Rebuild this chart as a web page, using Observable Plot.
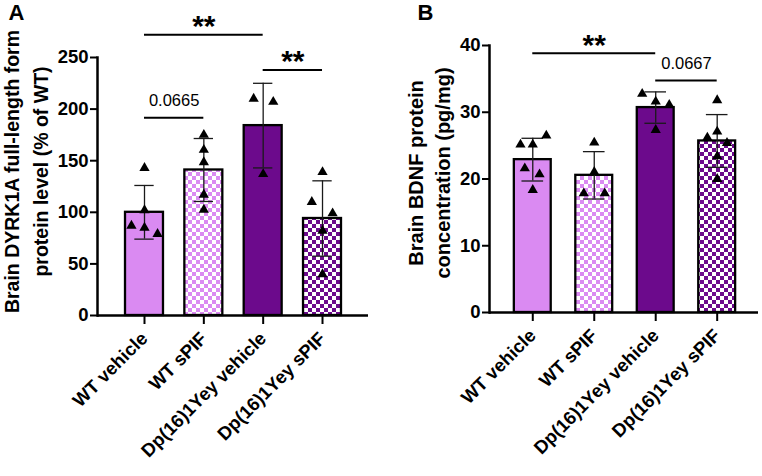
<!DOCTYPE html>
<html><head><meta charset="utf-8">
<script src="https://cdn.jsdelivr.net/npm/d3@7"></script>
<script src="https://cdn.jsdelivr.net/npm/@observablehq/plot@0.6"></script>
<style>
body{margin:0;background:#fff;}
#wrap{position:relative;width:762px;height:476px;overflow:hidden;background:#fff;}
#wrap svg{position:absolute;top:0;}
</style></head><body><div id="wrap"></div>
<script>
// ---------- data ----------
const groups = ["WT vehicle", "WT sPIF", "Dp(16)1Yey vehicle", "Dp(16)1Yey sPIF"];

// Panel A: DYRK1A (% of WT)
const aMeans = [100, 141, 184, 94];
const aSD = [26, 30.5, 41, 36.5];
const aPoints = [[143, 102, 87, 85, 79], [175, 160.5, 148.5, 117, 102.5], [210, 207, 137], [139, 110, 99, 82, 40]];
const aJitter = [[0, 0, -0.22, 0, 0.22], [0, 0, 0, 0, 0], [-0.16, 0.17, 0], [0, -0.18, 0.17, 0, 0]];
const aTicks = [0, 50, 100, 150, 200, 250];
const aTitle = "Brain DYRK1A full-length form\nprotein level (% of WT)";
const aSigFrom = [0, 2, 0];
const aSigTo = [2, 3, 1];
const aSigY = [272, 238, 191.5];
const aSigLabel = ["**", "**", "0.0665"];

// Panel B: BDNF (pg/mg)
const bMeans = [22.9, 20.55, 30.7, 25.7];
const bSD = [3.2, 3.55, 2.35, 3.95];
const bPoints = [[25.15, 25.15, 26.5, 21.6, 20.7, 18.35], [25.45, 21.05, 17.85, 17.85], [32.75, 31.6, 31.1, 27.35], [31.8, 27.1, 26.2, 25.4, 23.4, 20.0]];
const bJitter = [[-0.2, 0, 0.22, -0.13, 0.11, 0], [0, 0, -0.17, 0.17], [-0.22, 0, 0.22, 0], [0, 0, -0.16, 0.16, 0, 0]];
const bTicks = [0, 10, 20, 30, 40];
const bTitle = "Brain BDNF protein\nconcentration (pg/mg)";
const bSigFrom = [0, 2];
const bSigTo = [2, 3];
const bSigY = [38.85, 34.75];
const bSigLabel = ["**", "0.0667"];

// ---------- style ----------
const FONT = "'Liberation Sans', Arial, Helvetica, sans-serif";
const LIGHT = "#DA8AF2";
const DARK = "#6C0A8C";

function addPatterns(svg, id) {
  const ns = "http://www.w3.org/2000/svg";
  const defs = document.createElementNS(ns, "defs");
  [["l", LIGHT], ["d", DARK]].forEach(([k, col]) => {
    const p = document.createElementNS(ns, "pattern");
    p.setAttribute("id", `${id}-${k}`);
    p.setAttribute("patternUnits", "userSpaceOnUse");
    p.setAttribute("width", 8); p.setAttribute("height", 8);
    const mk = (x, y, w, h, f) => {
      const r = document.createElementNS(ns, "rect");
      r.setAttribute("x", x); r.setAttribute("y", y);
      r.setAttribute("width", w); r.setAttribute("height", h);
      r.setAttribute("fill", f); p.appendChild(r);
    };
    mk(0, 0, 8, 8, "#fff");
    mk(0, 0, 4, 4, col);
    mk(4, 4, 4, 4, col);
    defs.appendChild(p);
  });
  svg.insertBefore(defs, svg.firstChild);
}

function panel(c) {
  const bars = groups.map((g, i) => ({i, g, mean: c.means[i], sd: c.sd[i]}));
  const pts = c.points.flatMap((vals, i) => vals.map((v, k) => ({i, v, j: c.jitter[i][k]})));
  const sigs = c.sigFrom.map((a, k) => ({a, b: c.sigTo[k], y: c.sigY[k], label: c.sigLabel[k]}));
  const fills = [LIGHT, `url(#${c.id}-l)`, DARK, `url(#${c.id}-d)`];
  const svg = Plot.plot({
    width: c.W, height: c.H,
    marginLeft: c.m[0], marginRight: c.m[1], marginTop: c.m[2], marginBottom: c.m[3],
    x: {type: "linear", domain: c.xDomain, axis: null},
    y: {domain: [0, c.ticks[c.ticks.length - 1]], axis: null},
    color: {type: "identity"},
    style: {fontFamily: FONT, fontWeight: "bold", fontSize: "18px", color: "black", background: "white", overflow: "visible"},
    marks: [
      Plot.rectY(bars, {x1: d => d.i - c.halfW, x2: d => d.i + c.halfW, y: "mean", fill: d => fills[d.i], stroke: "black", strokeWidth: 2.3}),
      Plot.ruleX(bars, {x: "i", y1: d => d.mean - d.sd, y2: d => d.mean + d.sd, stroke: "#1a1a1a", strokeWidth: 1.3}),
      Plot.ruleY(bars, {x1: d => d.i - c.capW, x2: d => d.i + c.capW, y: d => d.mean + d.sd, stroke: "#1a1a1a", strokeWidth: 1.3}),
      Plot.ruleY(bars, {x1: d => d.i - c.capW, x2: d => d.i + c.capW, y: d => d.mean - d.sd, stroke: "#1a1a1a", strokeWidth: 1.3}),
      Plot.dot(pts, {x: d => d.i + d.j, y: "v", symbol: "triangle", fill: "black", r: 3.8}),
      Plot.frame({anchor: "left", strokeWidth: 2.5}),
      Plot.ruleY([0], {strokeWidth: 2.5}),
      Plot.axisY({ticks: c.ticks, tickSize: 7, tickPadding: 2, strokeWidth: 2, fontSize: 18.5, fontWeight: "bold", label: null}),
      Plot.axisX({ticks: [0, 1, 2, 3], tickFormat: i => groups[i], tickRotate: -45, tickSize: 9, tickPadding: 11, strokeWidth: 2, fontSize: 18.5, fontWeight: "bold", label: null}),
      Plot.ruleY(sigs, {x1: "a", x2: "b", y: "y", stroke: "black", strokeWidth: 2}),
      Plot.text(sigs.filter(s => s.label === "**"), {x: d => (d.a + d.b) / 2, y: "y", text: "label", dy: -8, fontSize: 30, fontWeight: "bold"}),
      Plot.text(sigs.filter(s => s.label !== "**"), {x: d => (d.a + d.b) / 2, y: "y", text: "label", dy: -17, fontSize: 16.5, fontWeight: "normal"}),
      Plot.text([c.title], {frameAnchor: "left", text: d => d, rotate: -90, dx: c.titleDx, dy: c.titleDy, fontSize: c.titleSize, fontWeight: "bold", lineHeight: c.lineHeight, textAnchor: "middle", lineAnchor: "middle"}),
      Plot.text([c.letter], {frameAnchor: "top-left", text: d => d, dx: c.letterDx, dy: c.letterDy, fontSize: 22, fontWeight: "bold", textAnchor: "start", lineAnchor: "top"})
    ]
  });
  addPatterns(svg, c.id);
  svg.style.left = c.left + "px";
  document.getElementById("wrap").appendChild(svg);
}

panel({
  id: "pa", letter: "A", left: 0, W: 380, H: 476, m: [97, 12, 57, 161],
  means: aMeans, sd: aSD, points: aPoints, jitter: aJitter, ticks: aTicks, title: aTitle,
  sigFrom: aSigFrom, sigTo: aSigTo, sigY: aSigY, sigLabel: aSigLabel,
  xDomain: [-0.792, 3.775], halfW: 0.32, capW: 0.163,
  titleSize: 19.5, titleDx: -73, titleDy: -15, lineHeight: 1.5, letterDx: -89, letterDy: -53
});
panel({
  id: "pb", letter: "B", left: 380, W: 382, H: 476, m: [109, 4, 45, 164],
  means: bMeans, sd: bSD, points: bPoints, jitter: bJitter, ticks: bTicks, title: bTitle,
  sigFrom: bSigFrom, sigTo: bSigTo, sigY: bSigY, sigLabel: bSigLabel,
  xDomain: [-0.704, 3.672], halfW: 0.30, capW: 0.176,
  titleSize: 20, titleDx: -62, titleDy: -6, lineHeight: 1.35, letterDx: -72, letterDy: -41
});
</script></body></html>
